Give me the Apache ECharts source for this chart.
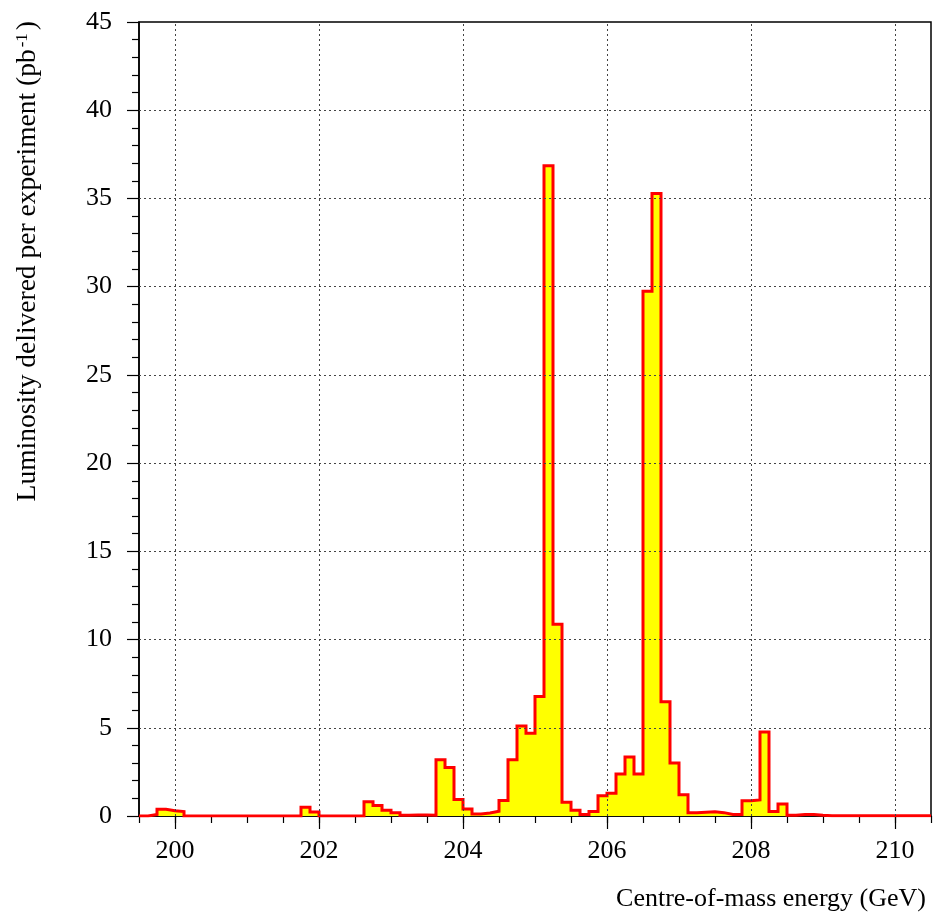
<!DOCTYPE html>
<html>
<head>
<meta charset="utf-8">
<script src="https://cdn.jsdelivr.net/npm/echarts@6/dist/echarts.min.js"></script>
<style>
html,body{margin:0;padding:0;background:#fff;}
#chart{width:934px;height:916px;}
</style>
</head>
<body>
<div id="chart"></div>
<script>
// Histogram binning (GeV)
const binStart = 199.5;
const binWidth = 0.125;
// Luminosity per bin (pb^-1), bins from 199.5 to 210.5 GeV
const lumi = [
  0, 0.08, 0.38, 0.30, 0.25, 0, 0, 0, 0, 0,
  0, 0, 0, 0, 0, 0, 0, 0, 0.50, 0.22,
  0, 0, 0, 0, 0, 0.81, 0.60, 0.32, 0.19, 0.04,
  0.06, 0.06, 0.04, 3.19, 2.75, 0.93, 0.39, 0.12, 0.17, 0.27,
  0.88, 3.19, 5.10, 4.69, 6.77, 36.85, 10.87, 0.78, 0.32, 0.08,
  0.26, 1.15, 1.29, 2.38, 3.35, 2.38, 29.74, 35.28, 6.47, 3.00,
  1.21, 0.19, 0.21, 0.24, 0.19, 0.09, 0.09, 0.87, 0.91, 4.76,
  0.26, 0.68, 0.04, 0.08, 0.08, 0.04, 0.02, 0.02, 0.02, 0.02,
  0.02, 0.02, 0.02, 0.02, 0.02, 0.02, 0.02, 0.02
];
const xTicks = [200, 202, 204, 206, 208, 210];
const yTicks = [0, 5, 10, 15, 20, 25, 30, 35, 40, 45];
const xTitle = 'Centre-of-mass energy (GeV)';
const yTitle = 'Luminosity delivered per experiment (pb{sup|-1}{sp| })';

const xMin = binStart;
const xMax = binStart + lumi.length * binWidth;

const stepData = lumi.map((v, i) => [binStart + i * binWidth, v]);
stepData.push([xMax, lumi[lumi.length - 1]]);

const FONT = 'Liberation Serif';
const gridStyle = { color: '#444', width: 1, type: [2, 3] };

const chart = echarts.init(document.getElementById('chart'), null, { renderer: 'canvas' });
chart.setOption({
  animation: false,
  backgroundColor: '#fff',
  grid: {
    left: 139, right: 2, top: 22, bottom: 100,
    show: true, borderColor: '#000', borderWidth: 1.5, backgroundColor: 'transparent'
  },
  xAxis: [
    {
      type: 'value', min: xMin, max: xMax, interval: 0.5,
      axisLine: { show: true, lineStyle: { color: '#000', width: 1.5 } },
      axisTick: { show: true, inside: false, length: 7, lineStyle: { color: '#000', width: 1.2 } },
      axisLabel: {
        show: true, margin: 22, color: '#000', fontFamily: FONT, fontSize: 26,
        showMinLabel: true, showMaxLabel: true,
        formatter: v => (Math.abs(v % 2) < 1e-9 ? String(v) : '')
      },
      splitLine: { show: false }
    },
    {
      type: 'value', min: xMin, max: xMax, position: 'bottom',
      axisLine: { show: false },
      axisTick: { show: true, inside: false, length: 13, customValues: xTicks, lineStyle: { color: '#000', width: 1.2 } },
      axisLabel: { show: false },
      splitLine: { show: false }
    }
  ],
  yAxis: {
    type: 'value', min: yTicks[0], max: yTicks[yTicks.length - 1], interval: 5,
    axisLine: { show: true, lineStyle: { color: '#000', width: 1.5 } },
    axisTick: { show: true, inside: false, length: 12, lineStyle: { color: '#000', width: 1.2 } },
    minorTick: { show: true, splitNumber: 5, length: 7, lineStyle: { color: '#000', width: 1.2 } },
    axisLabel: { margin: 27, color: '#000', fontFamily: FONT, fontSize: 26 },
    splitLine: { show: false }
  },
  graphic: [
    {
      type: 'text', x: 28, y: 21, rotation: Math.PI / 2,
      style: {
        text: yTitle, align: 'right', verticalAlign: 'middle',
        fontFamily: FONT, fontSize: 27.5, fill: '#000',
        rich: {
          sup: { fontFamily: FONT, fontSize: 17, verticalAlign: 'top', fill: '#000', padding: [0, 0, 6, 2] },
          sp: { fontFamily: FONT, fontSize: 12 }
        }
      }
    },
    {
      type: 'text', x: 926, y: 899,
      style: { text: xTitle, align: 'right', verticalAlign: 'middle', fontFamily: FONT, fontSize: 26, fill: '#000' }
    }
  ],
  series: [
    {
      type: 'line',
      xAxisIndex: 0,
      data: stepData,
      step: 'end',
      showSymbol: false,
      symbol: 'none',
      lineStyle: { color: '#ff0000', width: 3, join: 'miter' },
      areaStyle: { color: '#ffff00', opacity: 1 },
      silent: true,
      z: 2,
      markLine: {
        silent: true, symbol: 'none', animation: false,
        label: { show: false },
        lineStyle: gridStyle,
        emphasis: { disabled: true },
        data: [
          ...xTicks.map(x => ({ xAxis: x })),
          ...yTicks.filter(y => y > yTicks[0] && y < yTicks[yTicks.length - 1]).map(y => ({ yAxis: y }))
        ]
      }
    }
  ]
});
</script>
</body>
</html>
